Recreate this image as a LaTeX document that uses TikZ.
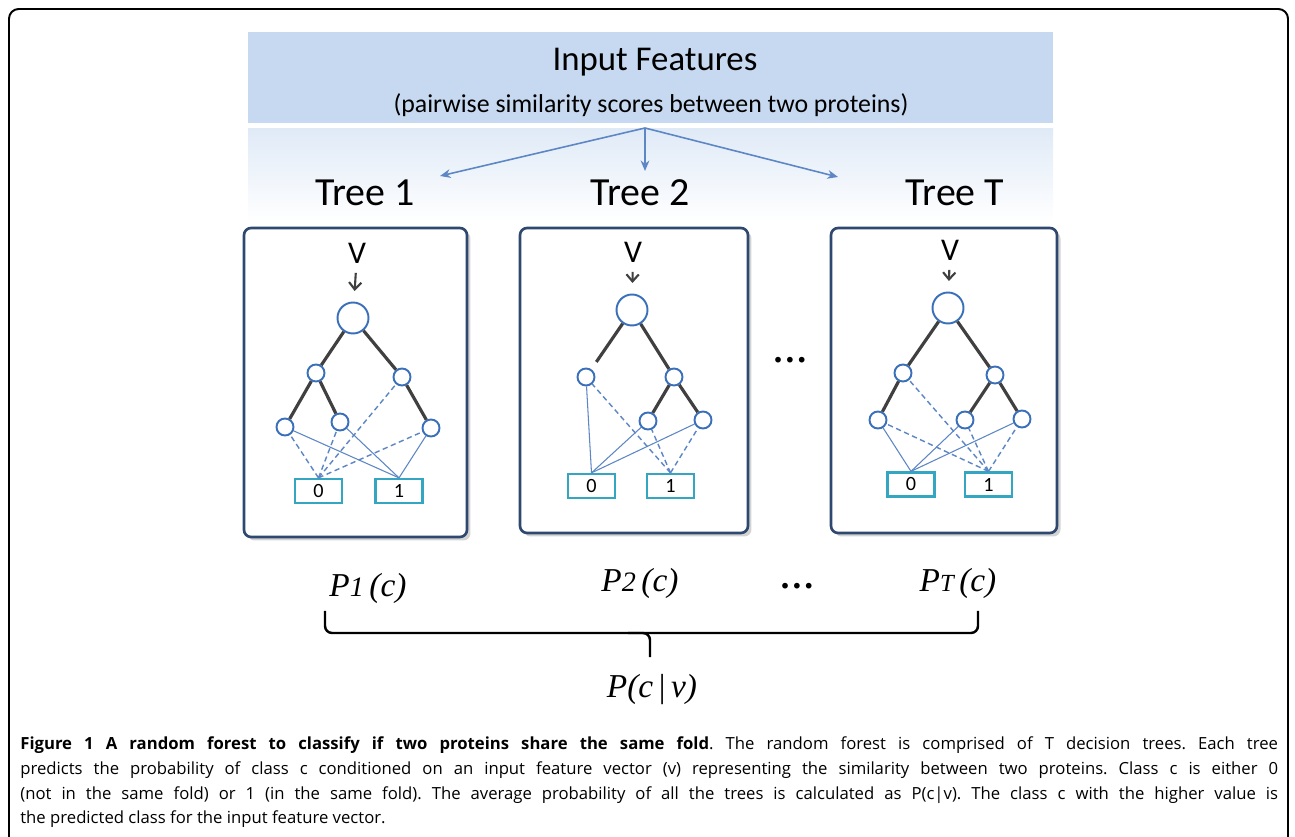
\documentclass[tikz,border=0pt]{standalone}
\usepackage{fontspec}
\setmainfont{Carlito}
\newfontfamily\capfont{Open Sans}
\newfontfamily\timesfont{Liberation Serif}
\definecolor{FrameNavy} {RGB}{46,72,112}
\definecolor{NodeBlue}  {RGB}{58,112,186}
\definecolor{LinkBlue}  {RGB}{92,134,196}
\definecolor{LeafTeal}  {RGB}{52,166,194}
\definecolor{BandBlue}  {RGB}{198,217,240}
\definecolor{BranchGray}{RGB}{64,64,64}
\usetikzlibrary{arrows.meta,positioning,calc,shadows}
\frenchspacing

\begin{document}
\begin{tikzpicture}[x=0.02cm,y=-0.02cm,
    treebox/.style={draw=FrameNavy,line width=1.5pt,rounded corners=4pt,fill=white,
      drop shadow={shadow xshift=2pt,shadow yshift=-2pt,opacity=0.35}},
    bignode/.style={circle,draw=NodeBlue,line width=1.1pt,fill=white,
      minimum size=0.62cm,inner sep=0pt},
    smallnode/.style={circle,draw=NodeBlue,line width=1.1pt,fill=white,
      minimum size=0.34cm,inner sep=0pt},
    leafbox/.style={draw=LeafTeal,line width=1.3pt,fill=white,minimum width=0.94cm,
      minimum height=0.48cm,inner sep=0pt,font=\fontsize{11.5}{12}\selectfont},
    branch/.style={BranchGray,line width=1.8pt},
    solidlink/.style={LinkBlue,line width=0.6pt},
    dashlink/.style={LinkBlue,line width=0.8pt,dash pattern=on 3pt off 2pt},
    vlabel/.style={font=\fontsize{18}{20}\selectfont},
    varrow/.style={-{Straight Barb[length=4pt,width=7pt]},BranchGray,line width=1.2pt,
      shorten <=2pt,shorten >=6pt},
    featarrow/.style={-{Stealth[length=6pt,width=5pt]},LinkBlue,line width=0.9pt},
    plabel/.style={font=\timesfont\fontsize{19}{22}\selectfont}]
  \useasboundingbox (0,0) rectangle (1295,837);
  % outer frame, open at the bottom
  \draw[line width=1.1pt,rounded corners=5.5pt] (9,837) -- (9,9) -- (1288,9) -- (1288,837);

  % input features band
  \fill[BandBlue] (248,32) rectangle (1053,123);
  \shade[top color=BandBlue!55,bottom color=white] (248,129) rectangle (1053,222);
  \node[font=\fontsize{19.8}{22}\selectfont] (feat) at (655,62) {Input Features};
  \node[font=\fontsize{14.7}{17}\selectfont] (featsub) at (651,105)
    {(pairwise similarity scores between two proteins)};
  \coordinate (split) at (645,128);
  \foreach \n/\x/\t in {t1/365/{Tree 1},t2/640/{Tree 2},tT/955/{Tree T}}
    \node[font=\fontsize{22.7}{26}\selectfont] (\n) at (\x,193) {\t};
  \coordinate (tip1) at (440,176);
  \coordinate (tip2) at (645,171);
  \coordinate (tipT) at (838,177);
  \foreach \e in {tip1,tip2,tipT}
    \draw[featarrow] (split) -- (\e);

  % tree frames
  \node[treebox,minimum width=4.46cm,minimum height=6.18cm] (box1) at (355.5,382.5) {};
  \node[treebox,minimum width=4.56cm,minimum height=6.10cm] (box2) at (634,380.5) {};
  \node[treebox,minimum width=4.52cm,minimum height=6.10cm] (boxT) at (944,380.5) {};

  % tree 1
  \node[vlabel] (v1) at (357,253) {V};
  \node[bignode] (r1) at (353,318) {};
  \foreach \n/\x/\y in {a1/316/373,b1/402/377,c1/285/427,d1/340/422,e1/431/428}
    \node[smallnode] (\n) at (\x,\y) {};
  \node[leafbox] (zero1) at (318.5,491) {0};
  \node[leafbox] (one1) at (399,491) {1};
  \draw[varrow] (v1) -- (r1);
  \foreach \p/\q in {r1/a1,r1/b1,a1/c1,a1/d1,b1/e1}
    \draw[branch] (\p) -- (\q);
  \foreach \q in {c1,d1,b1,e1}
    \draw[dashlink] (zero1.north) -- (\q);
  \foreach \q in {c1,d1,e1}
    \draw[solidlink] (one1.north) -- (\q);

  % tree 2
  \node[vlabel] (v2) at (633,252) {V};
  \node[bignode] (r2) at (632,310) {};
  \foreach \n/\x/\y in {a2/586/377,b2/674/377,c2/648/421,d2/703/420}
    \node[smallnode] (\n) at (\x,\y) {};
  \node[leafbox] (zero2) at (591.5,486) {0};
  \node[leafbox] (one2) at (670.5,486) {1};
  \draw[varrow] (v2) -- (r2);
  \draw[branch,shorten >=5pt] (r2) -- (a2);
  \foreach \p/\q in {r2/b2,b2/c2,b2/d2}
    \draw[branch] (\p) -- (\q);
  \foreach \q in {a2,c2,d2}
    \draw[solidlink] (zero2.north) -- (\q);
  \foreach \q in {a2,c2,d2}
    \draw[dashlink] (one2.north) -- (\q);

  % tree T
  \node[vlabel] (vT) at (950,250) {V};
  \node[bignode] (rT) at (948,308) {};
  \foreach \n/\x/\y in {aT/903/373,bT/995/375,cT/878/420,dT/965/420,eT/1022/419}
    \node[smallnode] (\n) at (\x,\y) {};
  \node[leafbox] (zeroT) at (911,484.5) {0};
  \node[leafbox] (oneT) at (988.5,484.5) {1};
  \draw[varrow] (vT) -- (rT);
  \foreach \p/\q in {rT/aT,rT/bT,aT/cT,bT/dT,bT/eT}
    \draw[branch] (\p) -- (\q);
  \foreach \q in {cT,dT,eT}
    \draw[solidlink] (zeroT.north) -- (\q);
  \foreach \q in {cT,aT,dT,eT}
    \draw[dashlink] (oneT.north) -- (\q);

  \node[font=\timesfont\bfseries\fontsize{20}{24}\selectfont] (dots1) at (790,360) {…};

  % per-tree probabilities and their average
  \node[plabel] (p1) at (368,588) {\itshape P{\fontsize{16}{18}\selectfont 1}\,(c)};
  \node[plabel] (p2) at (640,583) {\itshape P{\fontsize{16}{18}\selectfont 2}\,(c)};
  \node[plabel] (pT) at (958,583) {\itshape P{\fontsize{14}{18}\selectfont T}\,(c)};
  \node[font=\timesfont\bfseries\fontsize{20}{24}\selectfont] (dots2) at (797,586) {…};
  \draw[line width=1.4pt,rounded corners=4pt] (325,611) -- (325,633) -- (978,633) -- (978,611);
  \draw[line width=1.4pt,rounded corners=4pt] (628,633) -- (650,633) -- (650,657);
  \node[plabel] (pcv) at (652,690) {\itshape P(c\,\upshape|\,\itshape v)};

  % caption
  \node[anchor=north west,inner sep=0pt,text width=25.16cm,align=justify,
        font=\capfont\fontsize{9.5}{14.2}\selectfont] (caption) at (20,736)
    {\textbf{Figure 1 A random forest to classify if two proteins share the same fold}.
     The random forest is comprised of T decision trees. Each tree\linebreak
     predicts the probability of class c conditioned on an input feature vector (v)
     representing the similarity between two proteins. Class c is either 0\linebreak
     (not in the same fold) or 1 (in the same fold). The average probability of all
     the trees is calculated as P(c|v). The class c with the higher value is\linebreak
     the predicted class for the input feature vector.};
\end{tikzpicture}
\end{document}
